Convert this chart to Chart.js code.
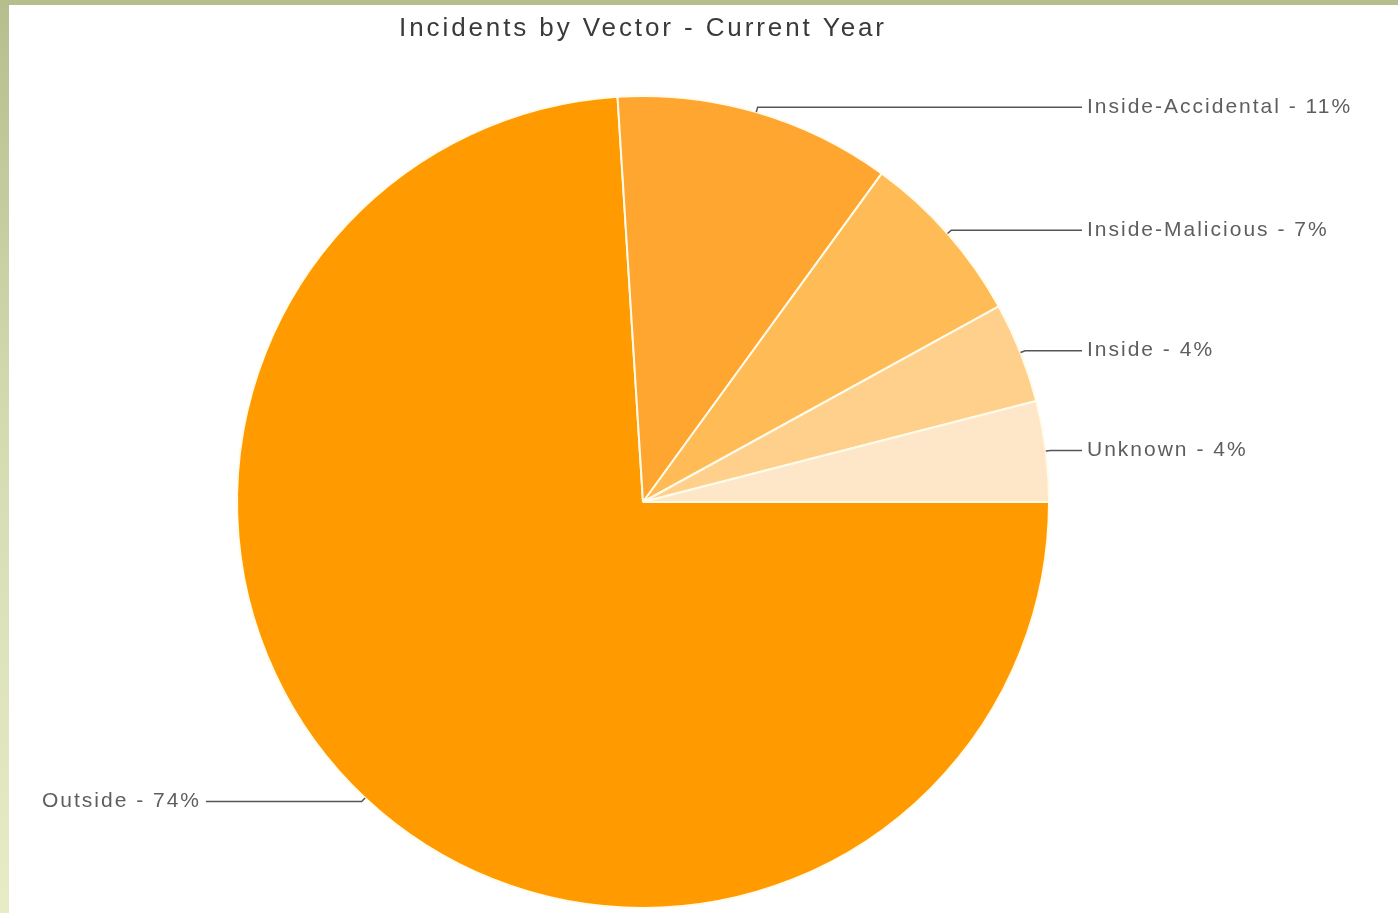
<!DOCTYPE html>
<html>
<head>
<meta charset="utf-8">
<script src="https://cdn.jsdelivr.net/npm/chart.js@4"></script>
<style>
  html, body { margin: 0; padding: 0; }
  body {
    width: 1398px; height: 913px; overflow: hidden;
    background: linear-gradient(to bottom, #b6be8e 0%, #d3dab0 45%, #e8ecc6 100%);
  }
  #frame {
    position: absolute; left: 9px; top: 5px; width: 1389px; height: 908px;
    background: #ffffff;
  }
</style>
</head>
<body>
<div id="frame"><canvas id="vectorpie"></canvas></div>
<script>
const categories = ['Outside', 'Inside-Accidental', 'Inside-Malicious', 'Inside', 'Unknown'];
const shares = [74, 11, 7, 4, 4];
const sliceColors = ['#ff9a00', '#ffa630', '#ffbb56', '#ffd08c', '#fde7c8'];

// leader lines + labels drawn next to each slice
const sliceLabels = {
  id: 'sliceLabels',
  beforeDraw(chart) {
    chart.ctx.letterSpacing = '2.9px';
  },
  afterDraw(chart) {
    const ctx = chart.ctx;
    const arcs = chart.getDatasetMeta(0).data;
    ctx.save();
    ctx.letterSpacing = '2px';
    ctx.font = '21px "Liberation Sans", Arial, sans-serif';
    ctx.fillStyle = '#5e5e5e';
    ctx.strokeStyle = '#555555';
    ctx.lineWidth = 1.5;
    ctx.textBaseline = 'middle';
    arcs.forEach((arc, i) => {
      const mid = (arc.startAngle + arc.endAngle) / 2;
      const r = arc.outerRadius;
      const x0 = arc.x + Math.cos(mid) * r;
      const y0 = arc.y + Math.sin(mid) * r;
      const x1 = arc.x + Math.cos(mid) * (r + 5);
      const y1 = arc.y + Math.sin(mid) * (r + 5);
      const right = Math.cos(mid) > 0;
      const tx = right ? arc.x + r + 38 : arc.x - r - 36;
      ctx.beginPath();
      ctx.moveTo(x0, y0);
      ctx.lineTo(x1, y1);
      ctx.lineTo(right ? tx - 5 : tx + 5, y1);
      ctx.stroke();
      ctx.textAlign = right ? 'left' : 'right';
      ctx.fillText(categories[i] + ' - ' + shares[i] + '%', tx, y1);
    });
    ctx.restore();
    ctx.letterSpacing = '0px';
  }
};

const ctxp = document.getElementById('vectorpie').getContext('2d');
const vectorpie = new Chart(ctxp, {
  type: 'pie',
  data: {
    labels: categories,
    datasets: [
      {
        data: shares,
        backgroundColor: sliceColors,
        borderColor: '#fffbea',
        borderWidth: 2,
        hoverOffset: 0
      }
    ]
  },
  options: {
    responsive: true,
    maintainAspectRatio: false,
    animation: false,
    events: [],
    rotation: 90,
    layout: {
      padding: { left: 100, right: 221, top: 0, bottom: 4 }
    },
    plugins: {
      legend: { display: false },
      tooltip: { enabled: false },
      title: {
        display: true,
        fullSize: false,
        text: 'Incidents by Vector - Current Year',
        color: '#3a3a3a',
        font: { family: '"Liberation Sans", Arial, sans-serif', size: 26, weight: 'normal', lineHeight: 1.2 },
        padding: { top: 8.4, bottom: 50.4 }
      }
    }
  },
  plugins: [sliceLabels]
});
</script>
</body>
</html>
